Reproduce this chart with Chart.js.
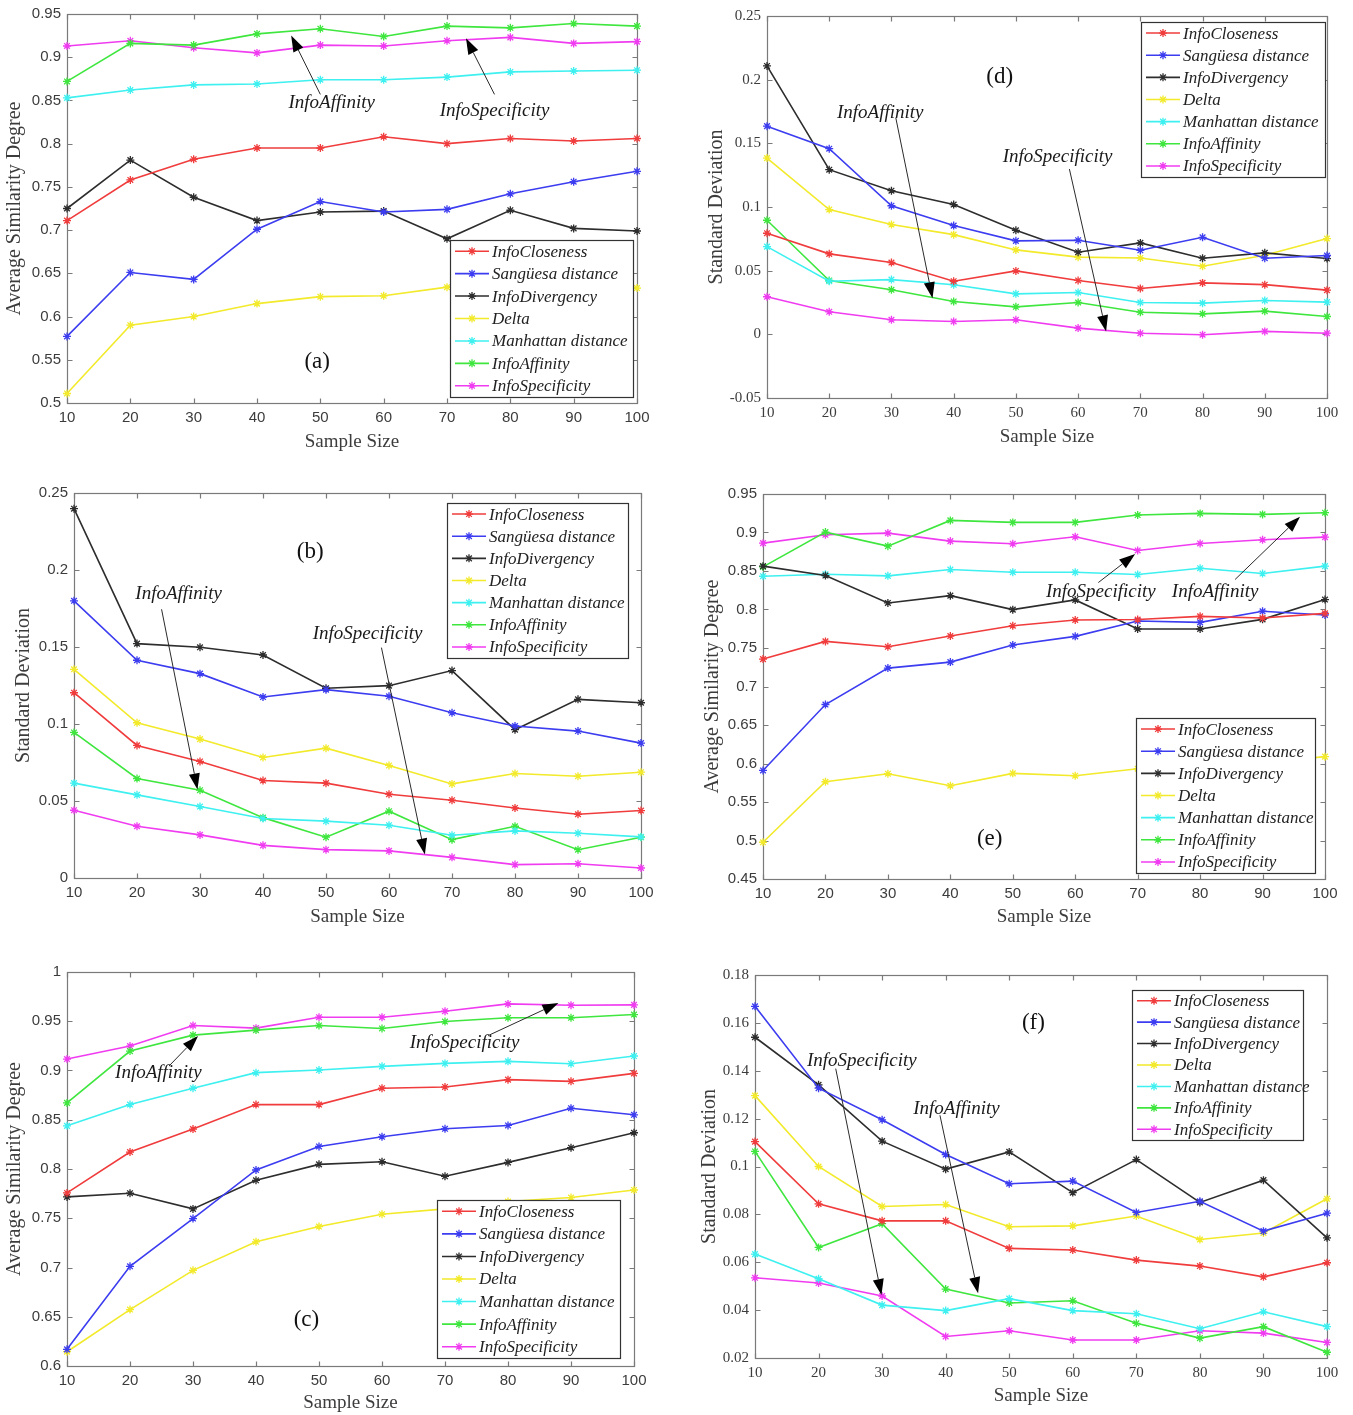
<!DOCTYPE html>
<html>
<head>
<meta charset="utf-8">
<script src="https://cdn.jsdelivr.net/npm/chart.js@4.4.0/dist/chart.umd.min.js"></script>
<style>
html,body{margin:0;padding:0;background:#fff;}
body{width:1353px;height:1415px;position:relative;overflow:hidden;}
canvas{position:absolute;}
</style>
</head>
<body>
<script>
// ---------------- DATA ----------------
const sampleSizes = [10, 20, 30, 40, 50, 60, 70, 80, 90, 100];
const xTickLabels = ['10', '20', '30', '40', '50', '60', '70', '80', '90', '100'];
const seriesNames = ['InfoCloseness', 'Sangüesa distance', 'InfoDivergency', 'Delta', 'Manhattan distance', 'InfoAffinity', 'InfoSpecificity'];

// (a) Average Similarity Degree
const aCloseness   = [0.711, 0.758, 0.782, 0.795, 0.795, 0.808, 0.800, 0.806, 0.803, 0.806];
const aSanguesa    = [0.577, 0.651, 0.643, 0.701, 0.733, 0.721, 0.724, 0.742, 0.756, 0.768];
const aDivergency  = [0.725, 0.781, 0.738, 0.711, 0.721, 0.722, 0.690, 0.723, 0.702, 0.699];
const aDelta       = [0.511, 0.590, 0.600, 0.615, 0.623, 0.624, 0.634, 0.634, 0.633, 0.633];
const aManhattan   = [0.853, 0.862, 0.868, 0.869, 0.874, 0.874, 0.877, 0.883, 0.884, 0.885];
const aAffinity    = [0.872, 0.916, 0.914, 0.927, 0.933, 0.924, 0.936, 0.934, 0.939, 0.936];
const aSpecificity = [0.913, 0.919, 0.911, 0.905, 0.914, 0.913, 0.919, 0.923, 0.916, 0.918];
const aYTicks      = [0.5, 0.55, 0.6, 0.65, 0.7, 0.75, 0.8, 0.85, 0.9, 0.95];
const aYTickLabels = ['0.5', '0.55', '0.6', '0.65', '0.7', '0.75', '0.8', '0.85', '0.9', '0.95'];

// (d) Standard Deviation
const dCloseness   = [0.0794, 0.0632, 0.0564, 0.0417, 0.0498, 0.0423, 0.0360, 0.0404, 0.0390, 0.0347];
const dSanguesa    = [0.1635, 0.1458, 0.1010, 0.0854, 0.0734, 0.0739, 0.0660, 0.0762, 0.0598, 0.0619];
const dDivergency  = [0.2108, 0.1293, 0.1128, 0.1019, 0.0817, 0.0645, 0.0718, 0.0598, 0.0640, 0.0595];
const dDelta       = [0.1384, 0.0980, 0.0862, 0.0783, 0.0663, 0.0606, 0.0600, 0.0535, 0.0621, 0.0752];
const dManhattan   = [0.0689, 0.0417, 0.0430, 0.0389, 0.0318, 0.0329, 0.0250, 0.0245, 0.0266, 0.0253];
const dAffinity    = [0.0896, 0.0423, 0.0350, 0.0258, 0.0216, 0.0250, 0.0174, 0.0161, 0.0182, 0.0140];
const dSpecificity = [0.0295, 0.0177, 0.0114, 0.0101, 0.0114, 0.0049, 0.0009, -0.0003, 0.0023, 0.0009];
const dYTicks      = [-0.05, 0, 0.05, 0.1, 0.15, 0.2, 0.25];
const dYTickLabels = ['-0.05', '0', '0.05', '0.1', '0.15', '0.2', '0.25'];

// (b) Standard Deviation
const bCloseness   = [0.1203, 0.0861, 0.0757, 0.0633, 0.0616, 0.0544, 0.0505, 0.0455, 0.0414, 0.0438];
const bSanguesa    = [0.1800, 0.1414, 0.1327, 0.1175, 0.1223, 0.1180, 0.1073, 0.0987, 0.0954, 0.0876];
const bDivergency  = [0.2398, 0.1522, 0.1498, 0.1448, 0.1232, 0.1249, 0.1347, 0.0963, 0.1160, 0.1138];
const bDelta       = [0.1355, 0.1008, 0.0902, 0.0783, 0.0843, 0.0731, 0.0611, 0.0679, 0.0661, 0.0687];
const bManhattan   = [0.0616, 0.0540, 0.0464, 0.0386, 0.0369, 0.0343, 0.0278, 0.0306, 0.0291, 0.0267];
const bAffinity    = [0.0945, 0.0646, 0.0570, 0.0392, 0.0265, 0.0434, 0.0249, 0.0336, 0.0184, 0.0265];
const bSpecificity = [0.0440, 0.0336, 0.0280, 0.0212, 0.0184, 0.0176, 0.0134, 0.0087, 0.0093, 0.0065];
const bYTicks      = [0, 0.05, 0.1, 0.15, 0.2, 0.25];
const bYTickLabels = ['0', '0.05', '0.1', '0.15', '0.2', '0.25'];

// (e) Average Similarity Degree
const eCloseness   = [0.7356, 0.7586, 0.7516, 0.7655, 0.7790, 0.7864, 0.7870, 0.7911, 0.7890, 0.7950];
const eSanguesa    = [0.5910, 0.6766, 0.7239, 0.7317, 0.7538, 0.7651, 0.7850, 0.7833, 0.7977, 0.7929];
const eDivergency  = [0.8563, 0.8441, 0.8085, 0.8180, 0.7998, 0.8124, 0.7747, 0.7747, 0.7872, 0.8129];
const eDelta       = [0.4977, 0.5763, 0.5867, 0.5711, 0.5872, 0.5841, 0.5932, 0.5970, 0.6010, 0.6089];
const eManhattan   = [0.8432, 0.8458, 0.8437, 0.8519, 0.8484, 0.8484, 0.8454, 0.8536, 0.8467, 0.8563];
const eAffinity    = [0.8554, 0.9005, 0.8823, 0.9157, 0.9131, 0.9131, 0.9227, 0.9248, 0.9235, 0.9257];
const eSpecificity = [0.8862, 0.8970, 0.8992, 0.8888, 0.8853, 0.8944, 0.8767, 0.8858, 0.8905, 0.8940];
const eYTicks      = [0.45, 0.5, 0.55, 0.6, 0.65, 0.7, 0.75, 0.8, 0.85, 0.9, 0.95];
const eYTickLabels = ['0.45', '0.5', '0.55', '0.6', '0.65', '0.7', '0.75', '0.8', '0.85', '0.9', '0.95'];

// (c) Average Similarity Degree
const cCloseness   = [0.7757, 0.8172, 0.8405, 0.8654, 0.8654, 0.8820, 0.8833, 0.8907, 0.8890, 0.8971];
const cSanguesa    = [0.6169, 0.7012, 0.7497, 0.7990, 0.8229, 0.8327, 0.8408, 0.8442, 0.8617, 0.8550];
const cDivergency  = [0.7717, 0.7754, 0.7595, 0.7885, 0.8047, 0.8074, 0.7926, 0.8067, 0.8216, 0.8368];
const cDelta       = [0.6145, 0.6573, 0.6971, 0.7261, 0.7416, 0.7541, 0.7595, 0.7670, 0.7710, 0.7787];
const cManhattan   = [0.8438, 0.8654, 0.8820, 0.8978, 0.9005, 0.9042, 0.9072, 0.9093, 0.9069, 0.9147];
const cAffinity    = [0.8671, 0.9197, 0.9359, 0.9410, 0.9457, 0.9427, 0.9497, 0.9535, 0.9535, 0.9568];
const cSpecificity = [0.9116, 0.9248, 0.9457, 0.9430, 0.9541, 0.9541, 0.9602, 0.9676, 0.9663, 0.9666];
const cYTicks      = [0.6, 0.65, 0.7, 0.75, 0.8, 0.85, 0.9, 0.95, 1];
const cYTickLabels = ['0.6', '0.65', '0.7', '0.75', '0.8', '0.85', '0.9', '0.95', '1'];

// (f) Standard Deviation
const fCloseness   = [0.1104, 0.0844, 0.0773, 0.0773, 0.0658, 0.0651, 0.0609, 0.0584, 0.0539, 0.0598];
const fSanguesa    = [0.1669, 0.1327, 0.1195, 0.1050, 0.0928, 0.0939, 0.0808, 0.0855, 0.0730, 0.0805];
const fDivergency  = [0.1540, 0.1341, 0.1106, 0.0989, 0.1061, 0.0891, 0.1029, 0.0850, 0.0943, 0.0702];
const fDelta       = [0.1296, 0.1000, 0.0833, 0.0841, 0.0748, 0.0752, 0.0793, 0.0695, 0.0722, 0.0865];
const fManhattan   = [0.0634, 0.0531, 0.0421, 0.0398, 0.0448, 0.0398, 0.0385, 0.0322, 0.0393, 0.0331];
const fAffinity    = [0.1063, 0.0662, 0.0761, 0.0488, 0.0430, 0.0439, 0.0345, 0.0283, 0.0331, 0.0224];
const fSpecificity = [0.0535, 0.0513, 0.0459, 0.0290, 0.0314, 0.0275, 0.0275, 0.0314, 0.0304, 0.0265];
const fYTicks      = [0.02, 0.04, 0.06, 0.08, 0.1, 0.12, 0.14, 0.16, 0.18];
const fYTickLabels = ['0.02', '0.04', '0.06', '0.08', '0.1', '0.12', '0.14', '0.16', '0.18'];

// ---------------- STYLE / LAYOUT ----------------
const COLORS = ['#f03c3c', '#3c3cf0', '#2d2d2d', '#f2ea2a', '#3ef0f0', '#3ee63e', '#f03cf0'];
const SANS = "'Liberation Sans', Arial, sans-serif";
const SERIF = "'Liberation Serif', 'Times New Roman', serif";
const TEXT_GRAY = '#3c3c3c';
const Y_TITLE_SIZE = 20;
const X_TITLE_SIZE = 19;
const TICK_SIZE = 15;

const panels = [
  { L: 67, R: 637, T: 14, B: 403, yTitleX: 15, xTitleY: 442, yMin: 0.5, yMax: 0.95,
    yTicks: aYTicks, yTickLabels: aYTickLabels, yTitle: 'Average Similarity Degree', tickFamily: SANS,
    series: [aCloseness, aSanguesa, aDivergency, aDelta, aManhattan, aAffinity, aSpecificity],
    legend: { x: 450, y: 240, w: 183, h: 157 },
    label: { text: '(a)', x: 49.5, y: 0.548 },
    notes: [
      { text: 'InfoAffinity', x: 51.8, y: 0.847, from: [50, 0.857], to: [45.4, 0.925] },
      { text: 'InfoSpecificity', x: 77.5, y: 0.838, from: [77.5, 0.857], to: [73, 0.922] } ] },
  { L: 767, R: 1327, T: 16, B: 398, yTitleX: 717, xTitleY: 437, yMin: -0.05, yMax: 0.25,
    yTicks: dYTicks, yTickLabels: dYTickLabels, yTitle: 'Standard Deviation', tickFamily: SERIF,
    series: [dCloseness, dSanguesa, dDivergency, dDelta, dManhattan, dAffinity, dSpecificity],
    legend: { x: 1141, y: 22, w: 184, h: 155 },
    label: { text: '(d)', x: 47.4, y: 0.2022 },
    notes: [
      { text: 'InfoAffinity', x: 28.2, y: 0.1735, from: [30.7, 0.170], to: [36.6, 0.0284] },
      { text: 'InfoSpecificity', x: 56.7, y: 0.1395, from: [58.6, 0.1298], to: [64.5, 0.0023] } ] },
  { L: 74, R: 641, T: 493, B: 878, yTitleX: 24, xTitleY: 917, yMin: 0, yMax: 0.25,
    yTicks: bYTicks, yTickLabels: bYTickLabels, yTitle: 'Standard Deviation', tickFamily: SANS,
    series: [bCloseness, bSanguesa, bDivergency, bDelta, bManhattan, bAffinity, bSpecificity],
    legend: { x: 447, y: 503, w: 181, h: 155 },
    label: { text: '(b)', x: 47.5, y: 0.2114 },
    notes: [
      { text: 'InfoAffinity', x: 26.6, y: 0.1843, from: [23.9, 0.1745], to: [29.6, 0.0575] },
      { text: 'InfoSpecificity', x: 56.6, y: 0.1583, from: [58.8, 0.1496], to: [65.7, 0.0152] } ] },
  { L: 763, R: 1325, T: 494, B: 879, yTitleX: 713, xTitleY: 917, yMin: 0.45, yMax: 0.95,
    yTicks: eYTicks, yTickLabels: eYTickLabels, yTitle: 'Average Similarity Degree', tickFamily: SANS,
    series: [eCloseness, eSanguesa, eDivergency, eDelta, eManhattan, eAffinity, eSpecificity],
    legend: { x: 1136, y: 718, w: 179, h: 155 },
    label: { text: '(e)', x: 46.3, y: 0.502 },
    notes: [
      { text: 'InfoSpecificity', x: 64.1, y: 0.8228, from: [63.7, 0.835], to: [69.6, 0.872] },
      { text: 'InfoAffinity', x: 82.4, y: 0.8228, from: [85.6, 0.839], to: [96.0, 0.9205] } ] },
  { L: 67, R: 634, T: 972, B: 1366, yTitleX: 15, xTitleY: 1403, yMin: 0.6, yMax: 1.0,
    yTicks: cYTicks, yTickLabels: cYTickLabels, yTitle: 'Average Similarity Degree', tickFamily: SANS,
    series: [cCloseness, cSanguesa, cDivergency, cDelta, cManhattan, cAffinity, cSpecificity],
    legend: { x: 437, y: 1200, w: 183, h: 158 },
    label: { text: '(c)', x: 48, y: 0.6465 },
    notes: [
      { text: 'InfoAffinity', x: 24.5, y: 0.8978, from: [26.2, 0.9046], to: [30.8, 0.935] },
      { text: 'InfoSpecificity', x: 73.1, y: 0.9275, from: [76.9, 0.9356], to: [88, 0.9686] } ] },
  { L: 755, R: 1327, T: 975, B: 1358, yTitleX: 710, xTitleY: 1396, yMin: 0.02, yMax: 0.18,
    yTicks: fYTicks, yTickLabels: fYTickLabels, yTitle: 'Standard Deviation', tickFamily: SERIF,
    series: [fCloseness, fSanguesa, fDivergency, fDelta, fManhattan, fAffinity, fSpecificity],
    legend: { x: 1132, y: 990, w: 171, h: 150 },
    label: { text: '(f)', x: 53.8, y: 0.160 },
    notes: [
      { text: 'InfoSpecificity', x: 26.8, y: 0.1441, from: [22.7, 0.1409], to: [29.9, 0.0463] },
      { text: 'InfoAffinity', x: 41.7, y: 0.1239, from: [39.1, 0.1214], to: [45.1, 0.0471] } ] }
];

// ---------------- DRAWING HELPERS ----------------
function drawStar(ctx, x, y, r, color) {
  ctx.save();
  ctx.strokeStyle = color;
  ctx.lineWidth = 1.3;
  ctx.beginPath();
  for (let k = 0; k < 4; k++) {
    const ang = k * Math.PI / 4;
    const dx = Math.cos(ang) * r, dy = Math.sin(ang) * r;
    ctx.moveTo(x - dx, y - dy);
    ctx.lineTo(x + dx, y + dy);
  }
  ctx.stroke();
  ctx.restore();
}

function drawArrow(ctx, x1, y1, x2, y2) {
  const ang = Math.atan2(y2 - y1, x2 - x1);
  const hl = 16, hw = 5.5;
  const bx = x2 - Math.cos(ang) * hl, by = y2 - Math.sin(ang) * hl;
  ctx.save();
  ctx.strokeStyle = '#2a2a2a';
  ctx.fillStyle = '#000';
  ctx.lineWidth = 1;
  ctx.beginPath();
  ctx.moveTo(x1, y1);
  ctx.lineTo(bx, by);
  ctx.stroke();
  ctx.beginPath();
  ctx.moveTo(x2, y2);
  ctx.lineTo(bx - Math.sin(ang) * hw, by + Math.cos(ang) * hw);
  ctx.lineTo(bx + Math.sin(ang) * hw, by - Math.cos(ang) * hw);
  ctx.closePath();
  ctx.fill();
  ctx.restore();
}

const framePlugin = {
  id: 'matlabFrame',
  beforeDatasetsDraw(chart) {
    const { ctx, chartArea: a, scales: { x, y } } = chart;
    ctx.save();
    ctx.strokeStyle = '#7a7a7a';
    ctx.lineWidth = 1.2;
    const l = Math.round(a.left) + 0.5, r = Math.round(a.right) + 0.5;
    const t = Math.round(a.top) + 0.5, b = Math.round(a.bottom) + 0.5;
    ctx.strokeRect(l, t, r - l, b - t);
    ctx.beginPath();
    x.ticks.forEach(tk => {
      const px = Math.round(x.getPixelForValue(tk.value)) + 0.5;
      ctx.moveTo(px, b); ctx.lineTo(px, b - 5);
      ctx.moveTo(px, t); ctx.lineTo(px, t + 5);
    });
    y.ticks.forEach(tk => {
      const py = Math.round(y.getPixelForValue(tk.value)) + 0.5;
      ctx.moveTo(l, py); ctx.lineTo(l + 5, py);
      ctx.moveTo(r, py); ctx.lineTo(r - 5, py);
    });
    ctx.stroke();
    ctx.restore();
  }
};

const overlayPlugin = {
  id: 'overlay',
  afterDraw(chart, args, opts) {
    const p = opts.panel;
    const { ctx, scales: { x, y } } = chart;
    // panel label
    ctx.save();
    ctx.fillStyle = '#111';
    ctx.font = `23px ${SERIF}`;
    ctx.textAlign = 'center';
    ctx.textBaseline = 'middle';
    ctx.fillText(p.label.text, x.getPixelForValue(p.label.x), y.getPixelForValue(p.label.y));
    // annotations
    ctx.font = `italic 19px ${SERIF}`;
    ctx.fillStyle = '#1a1a1a';
    p.notes.forEach(n => {
      ctx.fillText(n.text, x.getPixelForValue(n.x), y.getPixelForValue(n.y));
      drawArrow(ctx, x.getPixelForValue(n.from[0]), y.getPixelForValue(n.from[1]),
                x.getPixelForValue(n.to[0]), y.getPixelForValue(n.to[1]));
    });
    ctx.restore();
    // legend box
    const lg = p.legend;
    const lx = lg.x - opts.ox, ly = lg.y - opts.oy;
    ctx.save();
    ctx.fillStyle = '#fff';
    ctx.fillRect(lx, ly, lg.w, lg.h);
    ctx.strokeStyle = '#333';
    ctx.lineWidth = 1.2;
    ctx.strokeRect(Math.round(lx) + 0.5, Math.round(ly) + 0.5, lg.w, lg.h);
    const n = chart.data.datasets.length;
    const step = lg.h / n;
    ctx.font = `italic 17px ${SERIF}`;
    ctx.textBaseline = 'middle';
    ctx.textAlign = 'left';
    chart.data.datasets.forEach((ds, i) => {
      const cy = ly + step * (i + 0.5);
      ctx.strokeStyle = ds.borderColor;
      ctx.lineWidth = 1.6;
      ctx.beginPath();
      ctx.moveTo(lx + 5, cy); ctx.lineTo(lx + 39, cy);
      ctx.stroke();
      drawStar(ctx, lx + 22, cy, 4, ds.borderColor);
      ctx.fillStyle = '#222';
      ctx.fillText(ds.label, lx + 42, cy + 1);
    });
    ctx.restore();
  }
};

// ---------------- BUILD CHARTS ----------------
panels.forEach(p => {
  const cx = Math.round(p.yTitleX - Y_TITLE_SIZE * 1.2 / 2);
  const cy = p.T - 14;
  const cw = (p.R + 16) - cx;
  const ch = Math.round(p.xTitleY + X_TITLE_SIZE * 1.2 / 2) - cy;
  const yW = p.L - cx;
  const xH = cy + ch - p.B;

  const canvas = document.createElement('canvas');
  canvas.width = cw; canvas.height = ch;
  canvas.style.left = cx + 'px'; canvas.style.top = cy + 'px';
  canvas.style.width = cw + 'px'; canvas.style.height = ch + 'px';
  document.body.appendChild(canvas);

  const datasets = p.series.map((vals, i) => ({
    label: seriesNames[i],
    data: sampleSizes.map((s, j) => ({ x: s, y: vals[j] })),
    borderColor: COLORS[i],
    backgroundColor: COLORS[i],
    borderWidth: 1.6,
    pointStyle: 'star',
    pointRadius: 4,
    pointBorderWidth: 1.3,
    pointBorderColor: COLORS[i],
    tension: 0,
    fill: false,
    clip: false
  }));

  new Chart(canvas, {
    type: 'line',
    data: { datasets },
    options: {
      responsive: false,
      animation: false,
      devicePixelRatio: 1,
      layout: { padding: { top: 14, right: 16, left: 0, bottom: 0 } },
      plugins: {
        legend: { display: false },
        tooltip: { enabled: false },
        overlay: { panel: p, ox: cx, oy: cy }
      },
      scales: {
        x: {
          type: 'linear', min: 10, max: 100,
          afterBuildTicks: s => { s.ticks = sampleSizes.map(v => ({ value: v })); },
          afterFit: s => { s.height = xH; s.paddingLeft = 0; s.paddingRight = 0; },
          ticks: {
            autoSkip: false, maxRotation: 0, padding: 6, color: TEXT_GRAY,
            font: { family: p.tickFamily, size: TICK_SIZE },
            callback: (v, i) => xTickLabels[i]
          },
          grid: { display: false, drawTicks: false },
          border: { display: false },
          title: { display: true, text: 'Sample Size', color: TEXT_GRAY, padding: 0,
                   font: { family: SERIF, size: X_TITLE_SIZE } }
        },
        y: {
          type: 'linear', min: p.yMin, max: p.yMax,
          afterBuildTicks: s => { s.ticks = p.yTicks.map(v => ({ value: v })); },
          afterFit: s => { s.width = yW; s.paddingTop = 0; s.paddingBottom = 0; },
          ticks: {
            autoSkip: false, padding: 6, color: TEXT_GRAY,
            font: { family: p.tickFamily, size: TICK_SIZE },
            callback: (v, i) => p.yTickLabels[i]
          },
          grid: { display: false, drawTicks: false },
          border: { display: false },
          title: { display: true, text: p.yTitle, color: TEXT_GRAY, padding: 0,
                   font: { family: SERIF, size: Y_TITLE_SIZE } }
        }
      }
    },
    plugins: [framePlugin, overlayPlugin]
  });
});
</script>
</body>
</html>
